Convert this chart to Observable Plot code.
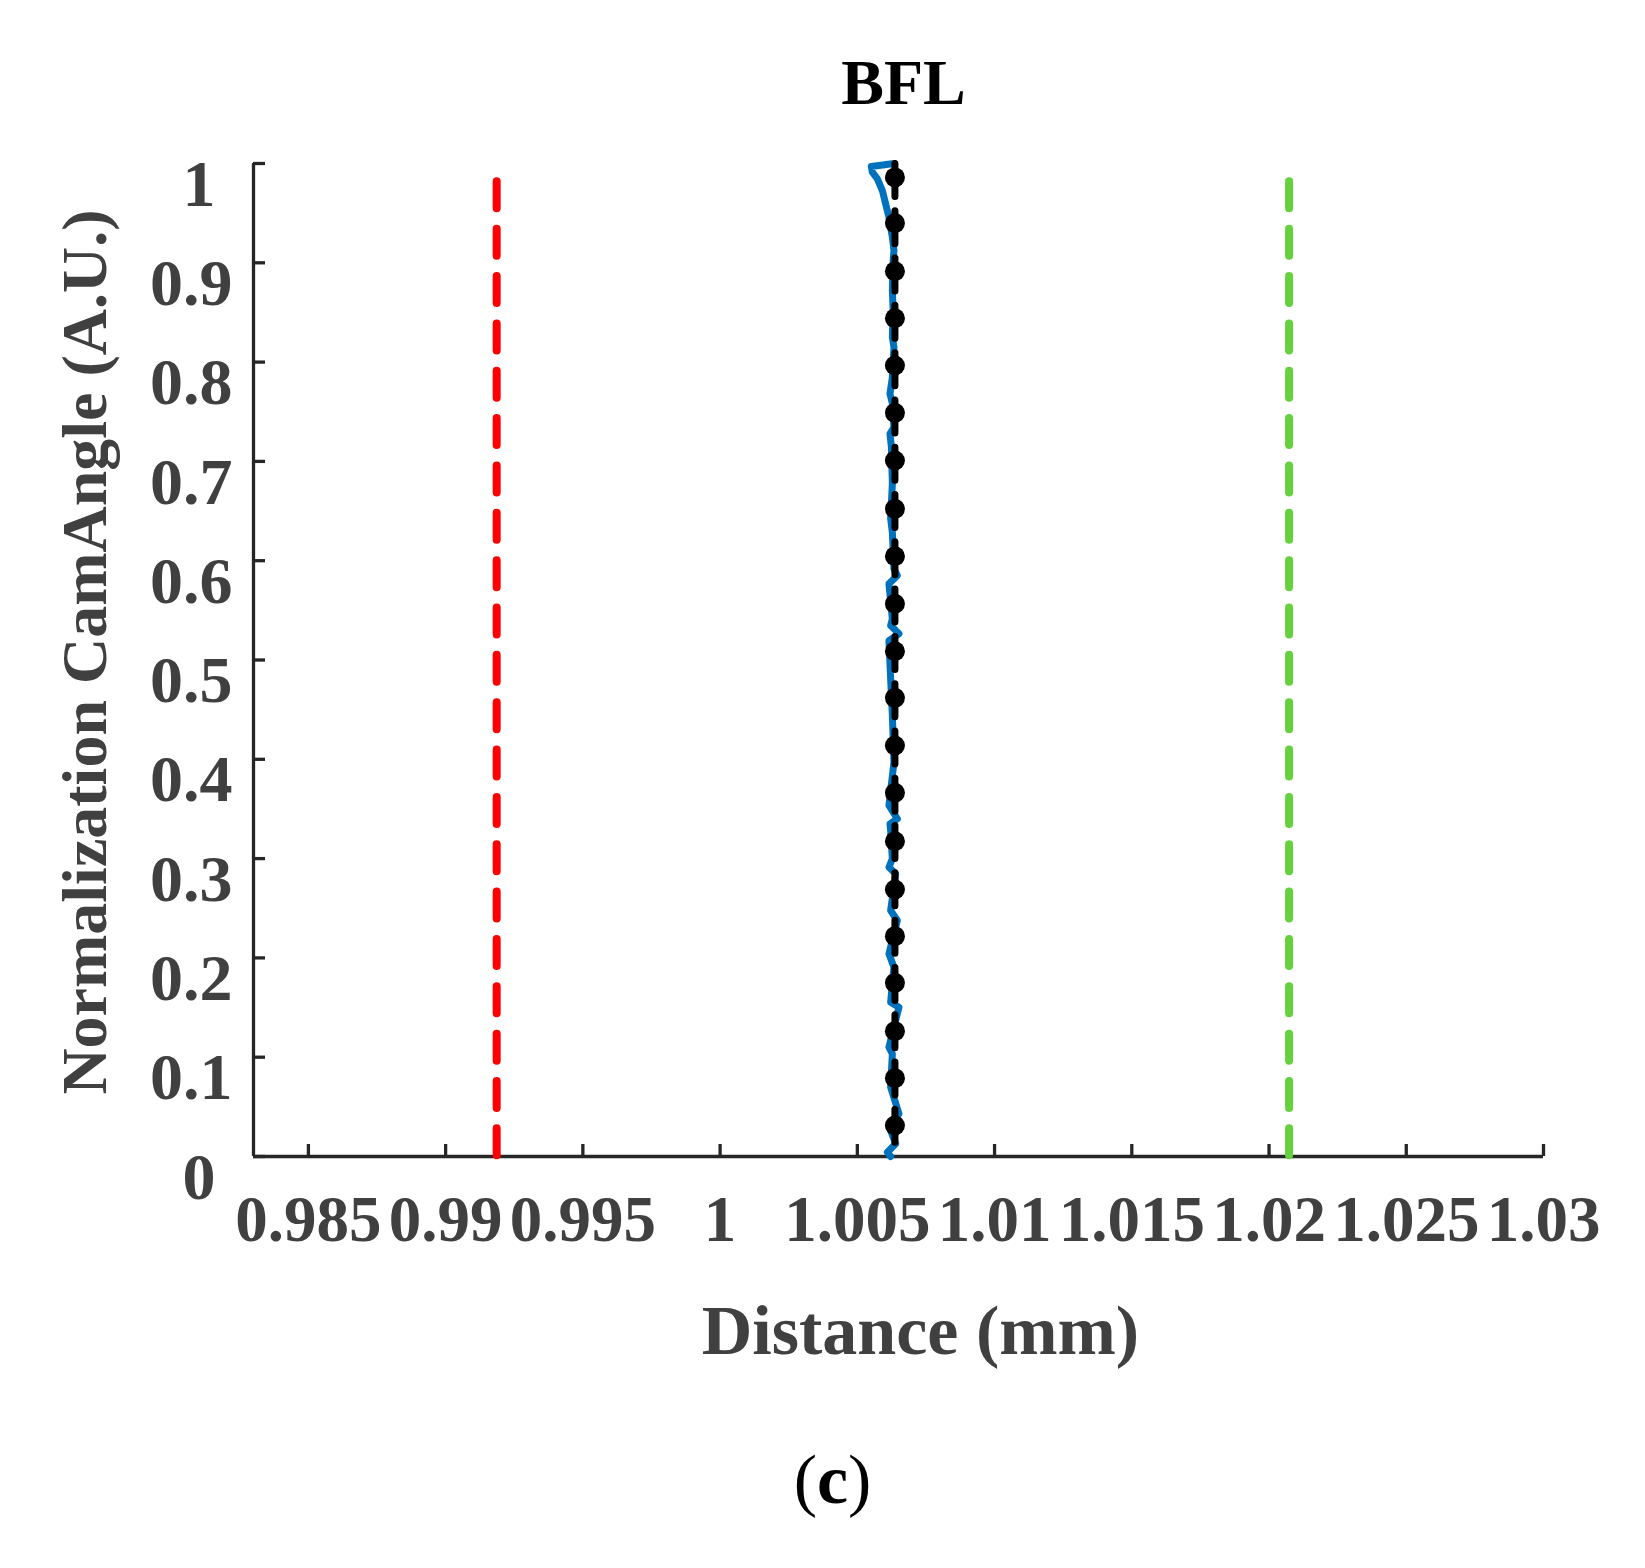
<!DOCTYPE html>
<html><head><meta charset="utf-8">
<script src="https://cdn.jsdelivr.net/npm/d3@7"></script>
<script src="https://cdn.jsdelivr.net/npm/@observablehq/plot@0.6"></script>
<style>
html,body{margin:0;padding:0;background:#fff;}
#chart svg{display:block;}
</style></head><body><div id="chart"></div>
<script>
// ---- data ----
const xTicks = [0.985, 0.99, 0.995, 1, 1.005, 1.01, 1.015, 1.02, 1.025, 1.03];
const xTickLabels = ["0.985", "0.99", "0.995", "1", "1.005", "1.01", "1.015", "1.02", "1.025", "1.03"];
const yTicks = [0, 0.1, 0.2, 0.3, 0.4, 0.5, 0.6, 0.7, 0.8, 0.9, 1];
const yTickLabels = ["0", "0.1", "0.2", "0.3", "0.4", "0.5", "0.6", "0.7", "0.8", "0.9", "1"];
const xDomain = [0.983, 1.03];
const yDomain = [0, 1];

const lowerLimit = 0.99186;   // red dashed
const upperLimit = 1.02073;   // green dashed
const limitTop = 0.982;
const nominalBFL = 1.00637;   // black dashed with markers

const markerAngles = [0.986, 0.940, 0.8915, 0.8442, 0.7966, 0.7489, 0.7009, 0.6522, 0.6045, 0.5566, 0.5088,
  0.4619, 0.4139, 0.3663, 0.3175, 0.2689, 0.2219, 0.1749, 0.1262, 0.0789, 0.0312];

const measuredAngle = [1.0, 0.9970, 0.9912, 0.9846, 0.9728, 0.9594, 0.9459, 0.9258, 0.9124, 0.9023, 0.8721,
  0.8520, 0.8251, 0.8150, 0.7848, 0.7681, 0.7583, 0.7344, 0.7278, 0.7150, 0.6775, 0.6425, 0.6287, 0.5918,
  0.5851, 0.5767, 0.5415, 0.5347, 0.5264, 0.5196, 0.4811, 0.4441, 0.3971, 0.3535, 0.3401, 0.3350, 0.3283,
  0.2998, 0.2913, 0.2847, 0.2477, 0.2377, 0.2041, 0.1906, 0.1554, 0.1504, 0.1101, 0.1034, 0.0698, 0.0430,
  0.0262, 0.0128, 0.0043, 0.0];
const measuredBFL = [1.006335, 1.005511, 1.005547, 1.005730, 1.005912, 1.006032, 1.006152, 1.006276, 1.006335,
  1.006305, 1.006276, 1.006305, 1.006276, 1.006335, 1.006276, 1.006189, 1.006276, 1.006335, 1.006189, 1.006240,
  1.006276, 1.006214, 1.006276, 1.006335, 1.006458, 1.006152, 1.006276, 1.006214, 1.006517, 1.006152, 1.006214,
  1.006276, 1.006335, 1.006152, 1.006458, 1.006189, 1.006214, 1.006276, 1.006152, 1.006397, 1.006214, 1.006458,
  1.006152, 1.006335, 1.006214, 1.006517, 1.006152, 1.006276, 1.006214, 1.006517, 1.006214, 1.006397, 1.006094,
  1.006214];

const titleText = "BFL";
const xLabel = "Distance (mm)";
const yLabel = "Normalization CamAngle (A.U.)";
const panelLetter = "c";

// ---- layout ----
const W = 1645, H = 1568;
const mL = 253, mR = 102, mT = 163, mB = 412;
const plotW = W - mL - mR, plotH = H - mT - mB;
const font = "'Liberation Serif', 'Times New Roman', serif";
const axisColor = "#262626";
const textColor = "#404040";

const blue = measuredAngle.map((a, i) => ({a, d: measuredBFL[i]}));
const nominalLine = yDomain.slice().reverse().map(a => ({a, d: nominalBFL}));
const markers = markerAngles.map(a => ({a, d: nominalBFL}));
const lowLine = [limitTop, 0].map(a => ({a, d: lowerLimit}));
const highLine = [limitTop, 0].map(a => ({a, d: upperLimit}));

const singleIdx = yTickLabels.map((s, i) => s.length === 1 ? i : -1).filter(i => i >= 0);
const multiIdx = yTickLabels.map((s, i) => s.length > 1 ? i : -1).filter(i => i >= 0);

const plot = Plot.plot({
  width: W, height: H,
  marginLeft: mL, marginRight: mR, marginTop: mT, marginBottom: mB,
  x: {domain: xDomain, axis: null},
  y: {domain: yDomain, axis: null},
  style: {fontFamily: font, background: "#fff", overflow: "visible"},
  marks: [
    // axes lines & inward ticks
    Plot.ruleX([xDomain[0]], {stroke: axisColor, strokeWidth: 3.3}),
    Plot.ruleY([yDomain[0]], {stroke: axisColor, strokeWidth: 3.3}),
    Plot.tickX(xTicks, {x: d => d, insetTop: plotH - 12, stroke: axisColor, strokeWidth: 3.3}),
    Plot.tickY(yTicks, {y: d => d, insetRight: plotW - 12, stroke: axisColor, strokeWidth: 3.3}),
    // tick labels
    Plot.text(xTicks, {x: d => d, frameAnchor: "bottom", text: (d, i) => xTickLabels[i], lineAnchor: "top",
      dy: 38, fontSize: 65, fontWeight: "bold", fill: textColor}),
    Plot.text(multiIdx, {y: i => yTicks[i], frameAnchor: "left", text: i => yTickLabels[i], textAnchor: "end",
      dx: -21, dy: 21, fontSize: 66, fontWeight: "bold", fill: textColor}),
    Plot.text(singleIdx, {y: i => yTicks[i], frameAnchor: "left", text: i => yTickLabels[i], textAnchor: "end",
      dx: -38, dy: 21, fontSize: 66, fontWeight: "bold", fill: textColor}),
    // axis labels and title
    Plot.text([xLabel], {frameAnchor: "bottom", lineAnchor: "bottom", textAnchor: "middle", dx: 22, dy: 197,
      fontSize: 70, fontWeight: "bold", fill: textColor}),
    Plot.text([yLabel], {frameAnchor: "left", lineAnchor: "bottom", textAnchor: "middle", rotate: -90, dx: -148, dy: -8,
      fontSize: 64, fontWeight: "bold", fill: textColor}),
    Plot.text([titleText], {frameAnchor: "top", lineAnchor: "bottom", textAnchor: "middle", dx: 5, dy: -60,
      fontSize: 64, fontWeight: "bold", fill: "#000"}),
    Plot.text([panelLetter], {frameAnchor: "bottom", lineAnchor: "bottom", textAnchor: "middle", dx: 832 - (mL + plotW / 2), dy: 346,
      fontSize: 70, fill: "#000", className: "panel-letter"}),
    // limits
    Plot.line(lowLine, {x: "d", y: "a", stroke: "#ff0000", strokeWidth: 8, strokeDasharray: "27,20.35", strokeLinecap: "round"}),
    Plot.line(highLine, {x: "d", y: "a", stroke: "#66d13f", strokeWidth: 8, strokeDasharray: "27,20.35", strokeLinecap: "round"}),
    // measured
    Plot.line(blue, {x: "d", y: "a", stroke: "#0072bd", strokeWidth: 7, strokeLinejoin: "round", strokeLinecap: "round"}),
    // nominal
    Plot.line(nominalLine, {x: "d", y: "a", stroke: "#000", strokeWidth: 7, strokeDasharray: "33,14.29"}),
    Plot.dot(markers, {x: "d", y: "a", r: 10, fill: "#000"})
  ]
});
document.getElementById("chart").appendChild(plot);

// panel caption "(c)" with bold letter between regular parentheses
d3.select(plot).selectAll(".panel-letter text").each(function () {
  const t = d3.select(this);
  const letter = t.text();
  t.text(null);
  t.append("tspan").attr("font-weight", "normal").text("(");
  t.append("tspan").attr("font-weight", "bold").text(letter);
  t.append("tspan").attr("font-weight", "normal").text(")");
});
</script></body></html>
